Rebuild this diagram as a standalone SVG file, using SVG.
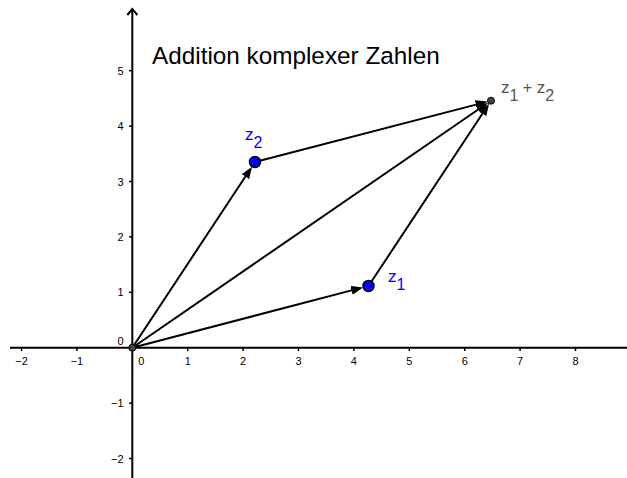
<svg xmlns="http://www.w3.org/2000/svg" width="627" height="478" viewBox="0 0 627 478">
<defs>
<style>
.ax{stroke:#000;stroke-width:2;fill:none}
.tk{stroke:#000;stroke-width:1.5}
.lbl{font-family:"Liberation Sans",Arial,sans-serif;font-size:11px;fill:#000}
.vec{stroke:#000;stroke-width:2;fill:none;marker-end:url(#ah)}
.pt{fill:#0000ff;stroke:#000;stroke-width:1.5}
.pg{fill:#444;stroke:#000;stroke-width:1}
.zl{font-family:"Liberation Sans",Arial,sans-serif;font-size:17px;fill:#0000ff}
.sl{font-family:"Liberation Sans",Arial,sans-serif;font-size:17px;fill:#555}
</style>
<marker id="ah" markerUnits="userSpaceOnUse" markerWidth="12" markerHeight="9" refX="4" refY="4.5" orient="auto" viewBox="0 0 12 9">
<path d="M0,0 L12,4.5 L0,9 z" fill="#000"/>
</marker>
</defs>
<rect width="627" height="478" fill="#fff"/>
<g id="axes">
<line class="ax" x1="10" y1="347.7" x2="627" y2="347.7"/>
<line class="ax" x1="132.3" y1="9" x2="132.3" y2="478"/>
<path class="ax" d="M127.3,15 L132.3,9 L137.3,15" stroke-width="2"/>
<g class="tk">
<line x1="21.5" y1="347.7" x2="21.5" y2="351"/>
<line x1="76.9" y1="347.7" x2="76.9" y2="351"/>
<line x1="187.7" y1="347.7" x2="187.7" y2="351"/>
<line x1="243.1" y1="347.7" x2="243.1" y2="351"/>
<line x1="298.5" y1="347.7" x2="298.5" y2="351"/>
<line x1="353.9" y1="347.7" x2="353.9" y2="351"/>
<line x1="409.3" y1="347.7" x2="409.3" y2="351"/>
<line x1="464.7" y1="347.7" x2="464.7" y2="351"/>
<line x1="520.1" y1="347.7" x2="520.1" y2="351"/>
<line x1="575.5" y1="347.7" x2="575.5" y2="351"/>
<line x1="129" y1="70.7" x2="132.3" y2="70.7"/>
<line x1="129" y1="126.1" x2="132.3" y2="126.1"/>
<line x1="129" y1="181.5" x2="132.3" y2="181.5"/>
<line x1="129" y1="236.9" x2="132.3" y2="236.9"/>
<line x1="129" y1="292.3" x2="132.3" y2="292.3"/>
<line x1="129" y1="403.1" x2="132.3" y2="403.1"/>
<line x1="129" y1="458.5" x2="132.3" y2="458.5"/>
</g>
<g class="lbl" text-anchor="middle">
<text x="21.5" y="365">−2</text>
<text x="76.9" y="365">−1</text>
<text x="141.3" y="365">0</text>
<text x="187.7" y="365">1</text>
<text x="243.1" y="365">2</text>
<text x="298.5" y="365">3</text>
<text x="353.9" y="365">4</text>
<text x="409.3" y="365">5</text>
<text x="464.7" y="365">6</text>
<text x="520.1" y="365">7</text>
<text x="575.5" y="365">8</text>
</g>
<g class="lbl" text-anchor="end">
<text x="123.5" y="74.7">5</text>
<text x="123.5" y="130.1">4</text>
<text x="123.5" y="185.5">3</text>
<text x="123.5" y="240.9">2</text>
<text x="123.5" y="296.3">1</text>
<text x="123.5" y="345">0</text>
<text x="123.5" y="407.1">−1</text>
<text x="123.5" y="462.5">−2</text>
</g>
</g>
<g id="title">
<text x="152" y="64" font-family="Liberation Sans, Arial, sans-serif" font-size="24.3" fill="#000">Addition komplexer Zahlen</text>
</g>
<g id="connectors">
<line class="vec" x1="132.3" y1="347.7" x2="355.4" y2="289.4"/>
<line class="vec" x1="132.3" y1="347.7" x2="247.6" y2="173.3"/>
<line class="vec" x1="132.3" y1="347.7" x2="481.5" y2="107.2"/>
<line class="vec" x1="368.5" y1="286" x2="484.7" y2="110.3"/>
<line class="vec" x1="255" y1="162" x2="479.9" y2="103.6"/>
</g>
<g id="origin">
<circle class="pg" cx="132.3" cy="347.7" r="3.5"/>
</g>
<g id="z1">
<circle class="pt" cx="368.5" cy="286" r="5.5"/>
<text class="zl" x="388" y="282">z<tspan font-size="16" dy="8">1</tspan></text>
</g>
<g id="z2">
<circle class="pt" cx="255" cy="162" r="5.5"/>
<text class="zl" x="245" y="140">z<tspan font-size="16" dy="8">2</tspan></text>
</g>
<g id="sum">
<circle class="pg" cx="491" cy="100.7" r="3.5"/>
<text class="sl" x="501" y="93">z<tspan font-size="16" dy="8">1</tspan><tspan font-size="16" dy="-8"> + </tspan>z<tspan font-size="16" dy="8">2</tspan></text>
</g>
</svg>
